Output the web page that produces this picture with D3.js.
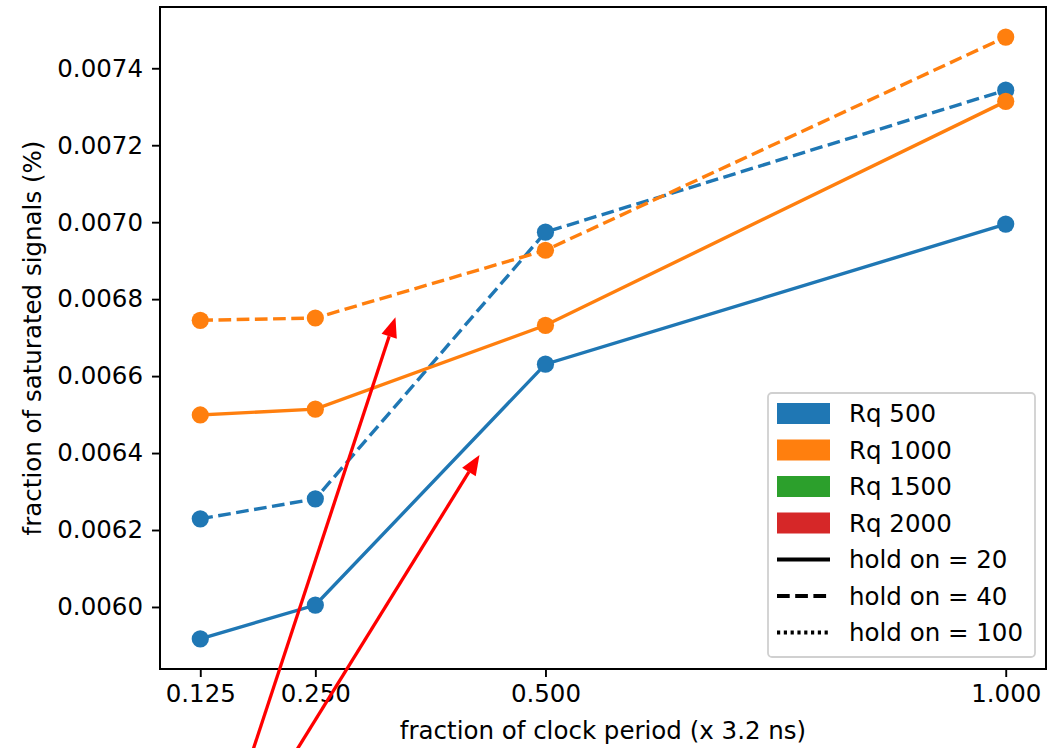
<!DOCTYPE html>
<html>
<head>
<meta charset="utf-8">
<script src="https://cdn.jsdelivr.net/npm/d3@7"></script>
<style>
  html, body { margin: 0; padding: 0; background: #fff; }
  svg { display: block; font-family: "DejaVu Sans", sans-serif; }
</style>
</head>
<body>
<svg id="chart" width="1059" height="748"></svg>
<script>
// Clock-period fractions on the x axis
const clockFractions = [0.125, 0.25, 0.5, 1.0];

// Fraction of saturated signals (%) per Rq and hold-on setting
const rq500Hold20  = [0.005917, 0.006005, 0.006631, 0.006995];
const rq500Hold40  = [0.006229, 0.006281, 0.006974, 0.007343];
const rq1000Hold20 = [0.006499, 0.006514, 0.006732, 0.007314];
const rq1000Hold40 = [0.006745, 0.006751, 0.006927, 0.007481];

const xTickValues = [0.125, 0.25, 0.5, 1.0];
const yTickValues = [0.0060, 0.0062, 0.0064, 0.0066, 0.0068, 0.0070, 0.0072, 0.0074];

const rqLabels = ["Rq 500", "Rq 1000", "Rq 1500", "Rq 2000"];
const holdLabels = ["hold on = 20", "hold on = 40", "hold on = 100"];

// Annotation arrows, [tail, tip] in data coordinates
const arrowA = [[0.1748, 0.005574], [0.337, 0.006753]];
const arrowB = [[0.2157, 0.005574], [0.4283, 0.006395]];

const palette = ["#1f77b4", "#ff7f0e", "#2ca02c", "#d62728"];
const dashFor = { 20: null, 40: "12.7,5.5", 100: "3.2,3.6" };

const series = [
  { values: rq500Hold20,  color: palette[0], hold: 20 },
  { values: rq500Hold40,  color: palette[0], hold: 40 },
  { values: rq1000Hold20, color: palette[1], hold: 20 },
  { values: rq1000Hold40, color: palette[1], hold: 40 }
];

const svg = d3.select("#chart");
const plot = { left: 160, right: 1046, top: 7, bottom: 669 };
const fs = 24.5;

// 5% padding around the data range on both axes
const xMin = d3.min(clockFractions), xMax = d3.max(clockFractions);
const xPad = (xMax - xMin) * 0.05;
const allY = series.flatMap(s => s.values);
const yMin = d3.min(allY), yMax = d3.max(allY);
const yPad = (yMax - yMin) * 0.05;

const x = d3.scaleLinear().domain([xMin - xPad, xMax + xPad]).range([plot.left, plot.right]);
const y = d3.scaleLinear().domain([yMin - yPad, yMax + yPad]).range([plot.bottom, plot.top]);

// Data lines and markers
const line = d3.line().x((d, i) => x(clockFractions[i])).y(d => y(d));
const g = svg.append("g");
series.forEach(s => {
  g.append("path")
    .datum(s.values)
    .attr("d", line)
    .attr("fill", "none")
    .attr("stroke", s.color)
    .attr("stroke-width", 3.4)
    .attr("stroke-linecap", s.hold === 20 ? "square" : "butt")
    .attr("stroke-dasharray", dashFor[s.hold]);
  g.selectAll(null)
    .data(s.values)
    .enter().append("circle")
    .attr("cx", (d, i) => x(clockFractions[i]))
    .attr("cy", d => y(d))
    .attr("r", 8.6)
    .attr("fill", s.color);
});

// Axes
const xAxis = d3.axisBottom(x).tickValues(xTickValues).tickFormat(d3.format(".3f")).tickSize(8).tickPadding(8);
const yAxis = d3.axisLeft(y).tickValues(yTickValues).tickFormat(d3.format(".4f")).tickSize(8).tickPadding(9);

const gx = svg.append("g").attr("transform", `translate(0,${plot.bottom})`).call(xAxis);
const gy = svg.append("g").attr("transform", `translate(${plot.left},0)`).call(yAxis);
[gx, gy].forEach(ax => {
  ax.select(".domain").remove();
  ax.selectAll(".tick line").attr("stroke", "#000").attr("stroke-width", 1.9);
  ax.selectAll(".tick text").attr("fill", "#000").style("font-size", fs + "px")
    .style("font-family", "'DejaVu Sans', sans-serif");
});

// Frame around the plotting area
svg.append("rect")
  .attr("x", plot.left).attr("y", plot.top)
  .attr("width", plot.right - plot.left).attr("height", plot.bottom - plot.top)
  .attr("fill", "none").attr("stroke", "#000").attr("stroke-width", 2);

// Axis titles
svg.append("text")
  .attr("x", (plot.left + plot.right) / 2).attr("y", 739)
  .attr("text-anchor", "middle").style("font-size", fs + "px")
  .text("fraction of clock period (x 3.2 ns)");
svg.append("text")
  .attr("transform", `translate(41,${(plot.top + plot.bottom) / 2}) rotate(-90)`)
  .attr("text-anchor", "middle").style("font-size", fs + "px")
  .text("fraction of saturated signals (%)");

// Legend
const lg = svg.append("g").attr("transform", "translate(768,393)");
lg.append("rect")
  .attr("width", 267).attr("height", 264).attr("rx", 4)
  .attr("fill", "#fff").attr("fill-opacity", 0.8)
  .attr("stroke", "#d0d0d0").attr("stroke-width", 1.8);
const rowH = 36.5, row0 = 20.5;
rqLabels.forEach((lab, i) => {
  const cy = row0 + i * rowH;
  lg.append("rect").attr("x", 9).attr("y", cy - 10.5).attr("width", 53).attr("height", 21).attr("fill", palette[i]);
  lg.append("text").attr("x", 81).attr("y", cy).attr("dy", "0.36em").style("font-size", fs + "px").text(lab);
});
[20, 40, 100].forEach((h, j) => {
  const cy = row0 + (j + 4) * rowH;
  lg.append("line").attr("x1", 9).attr("x2", 62).attr("y1", cy).attr("y2", cy)
    .attr("stroke", "#000").attr("stroke-width", 3.8)
    .attr("stroke-dasharray", dashFor[h]);
  lg.append("text").attr("x", 81).attr("y", cy).attr("dy", "0.36em").style("font-size", fs + "px").text(holdLabels[j]);
});

// Red annotation arrows
function arrow(pts) {
  const [t0, t1] = pts;
  const x0 = x(t0[0]), y0 = y(t0[1]), x1 = x(t1[0]), y1 = y(t1[1]);
  const ang = Math.atan2(y1 - y0, x1 - x0);
  const headL = 20, headW = 8;
  const bx = x1 - headL * Math.cos(ang), by = y1 - headL * Math.sin(ang);
  svg.append("line").attr("x1", x0).attr("y1", y0).attr("x2", bx).attr("y2", by)
    .attr("stroke", "#ff0000").attr("stroke-width", 3.3);
  const px = -Math.sin(ang), py = Math.cos(ang);
  svg.append("path")
    .attr("d", `M${x1},${y1}L${bx + px * headW},${by + py * headW}L${bx - px * headW},${by - py * headW}Z`)
    .attr("fill", "#ff0000");
}
arrow(arrowA);
arrow(arrowB);
</script>
</body>
</html>
